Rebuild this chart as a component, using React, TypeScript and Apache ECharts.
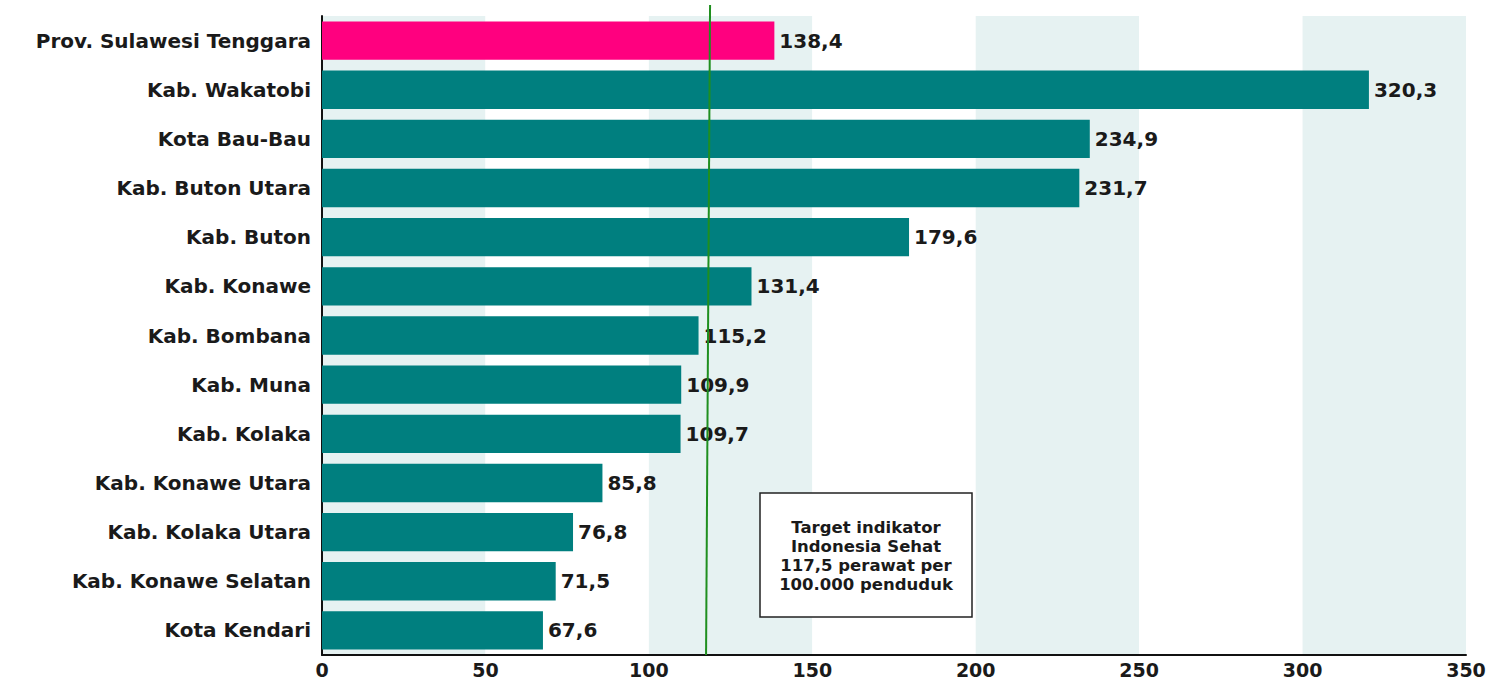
import React, { useEffect, useRef } from "react";
import * as echarts from "echarts";

const categories = [
  "Prov. Sulawesi Tenggara",
  "Kab. Wakatobi",
  "Kota Bau-Bau",
  "Kab. Buton Utara",
  "Kab. Buton",
  "Kab. Konawe",
  "Kab. Bombana",
  "Kab. Muna",
  "Kab. Kolaka",
  "Kab. Konawe Utara",
  "Kab. Kolaka Utara",
  "Kab. Konawe Selatan",
  "Kota Kendari",
];
const values = [138.4, 320.3, 234.9, 231.7, 179.6, 131.4, 115.2, 109.9, 109.7, 85.8, 76.8, 71.5, 67.6];
const xTicks = [0, 50, 100, 150, 200, 250, 300, 350];
const targetValue = 117.5;
const targetText = ["Target indikator", "Indonesia Sehat", "117,5 perawat per", "100.000 penduduk"];

const FONT = "'DejaVu Sans', 'Liberation Sans', Arial, sans-serif";

export default function App() {
  const ref = useRef<HTMLDivElement>(null);
  useEffect(() => {
    if (!ref.current) return;
    const chart = echarts.init(ref.current, null, { renderer: "svg" });
    chart.setOption({
      animation: false,
      backgroundColor: "#ffffff",
      grid: { left: 322, right: 24, top: 16, bottom: 24, containLabel: false },
      xAxis: {
        type: "value",
        min: xTicks[0],
        max: xTicks[xTicks.length - 1],
        interval: xTicks[1] - xTicks[0],
        axisLine: { show: true, lineStyle: { color: "#111", width: 2 } },
        axisTick: { show: false },
        splitLine: { show: false },
        splitArea: { show: true, areaStyle: { color: ["#e6f2f2", "#ffffff"] } },
        axisLabel: {
          margin: 5,
          color: "#1a1a1a",
          fontFamily: FONT,
          fontWeight: "bold",
          fontSize: 19,
          lineHeight: 19,
        },
      },
      yAxis: {
        type: "category",
        data: categories,
        inverse: true,
        axisLine: { show: true, lineStyle: { color: "#111", width: 2 } },
        axisTick: { show: false },
        axisLabel: {
          margin: 11,
          color: "#1a1a1a",
          fontFamily: FONT,
          fontWeight: "bold",
          fontSize: 20,
        },
      },
      series: [
        {
          type: "bar",
          data: values.map((v, i) => ({
            value: v,
            itemStyle: { color: i === 0 ? "#ff007f" : "#007f7f" },
          })),
          barCategoryGap: "22%",
          label: {
            show: true,
            position: "right",
            distance: 5,
            color: "#1a1a1a",
            fontFamily: FONT,
            fontWeight: "bold",
            fontSize: 20,
            formatter: (p: any) => String(p.value).replace(".", ","),
          },
          z: 2,
        },
      ],
    });
    const lineX = chart.convertToPixel({ xAxisIndex: 0 }, targetValue) as number;
    chart.setOption({
      graphic: [
        {
          type: "line",
          shape: { x1: lineX + 4, y1: 5, x2: lineX, y2: 655 },
          style: { stroke: "#1f8f1f", lineWidth: 2 },
          z: 5,
        },
        {
          type: "rect",
          x: 760,
          y: 493,
          shape: { width: 212, height: 124 },
          style: { fill: "#ffffff", stroke: "#222", lineWidth: 1.5 },
          z: 10,
        },
        {
          type: "text",
          x: 866,
          y: 518,
          style: {
            text: targetText.join("\n"),
            fill: "#1a1a1a",
            fontSize: 16.5,
            fontWeight: "bold",
            fontFamily: FONT,
            lineHeight: 19,
            align: "center",
            verticalAlign: "top",
          },
          z: 11,
        },
      ],
    });
    return () => chart.dispose();
  }, []);
  return (
    <div
      ref={ref}
      style={{ position: "fixed", left: 0, top: 0, width: 1490, height: 679 }}
    />
  );
}
